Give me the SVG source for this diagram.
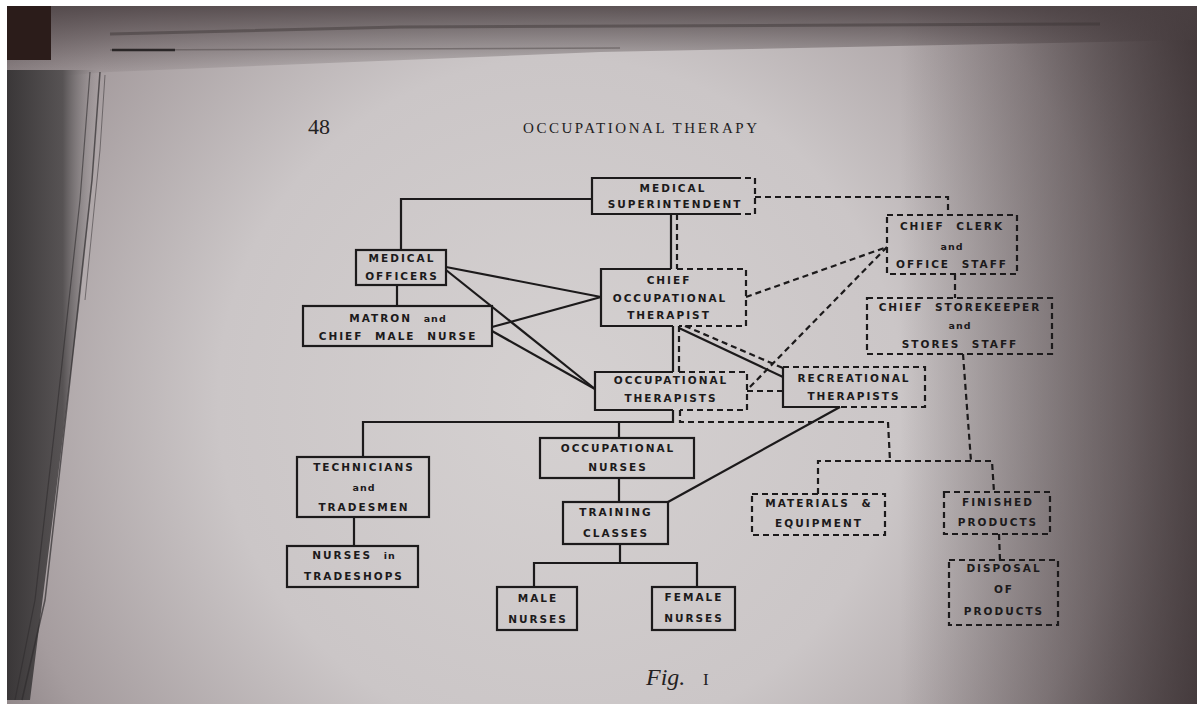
<svg xmlns="http://www.w3.org/2000/svg" width="1197" height="704" viewBox="0 0 1197 704">
<defs>
<radialGradient id="page" cx="560" cy="400" r="760" gradientUnits="userSpaceOnUse">
<stop offset="0" stop-color="#d5d1d1"/>
<stop offset="0.45" stop-color="#cbc6c7"/>
<stop offset="0.75" stop-color="#a59c9e"/>
<stop offset="1" stop-color="#6a6062"/>
</radialGradient>
<linearGradient id="rightShade" x1="0" y1="0" x2="1" y2="0">
<stop offset="0" stop-color="#2e2426" stop-opacity="0"/>
<stop offset="1" stop-color="#2e2426" stop-opacity="0.7"/>
</linearGradient>
<linearGradient id="topShade" x1="0" y1="0" x2="0" y2="1">
<stop offset="0" stop-color="#4a4042" stop-opacity="0.85"/>
<stop offset="1" stop-color="#4a4042" stop-opacity="0"/>
</linearGradient>
<linearGradient id="spine" x1="0" y1="0" x2="1" y2="0">
<stop offset="0" stop-color="#3a3738"/>
<stop offset="0.6" stop-color="#575354"/>
<stop offset="1" stop-color="#8a8587" stop-opacity="0"/>
</linearGradient>
<style>
.s{stroke:#1c1a1b;stroke-width:2.2;fill:none}
.d{stroke:#1c1a1b;stroke-width:2.2;fill:none;stroke-dasharray:6 4}
.t{font-family:"DejaVu Sans",sans-serif;font-weight:bold;font-size:10.5px;letter-spacing:2px;word-spacing:6px;fill:#1c1a1b;text-anchor:middle}
.sm{font-weight:bold;font-size:9.5px;letter-spacing:1px}
.hd{font-family:"Liberation Serif",serif;fill:#232122}
</style>
</defs>

<!-- background photo of page -->
<rect x="0" y="0" width="1197" height="704" fill="#ffffff"/>
<rect x="7" y="6" width="1190" height="698" fill="url(#page)"/>
<rect x="900" y="6" width="297" height="698" fill="url(#rightShade)"/>
<polygon points="7,6 1197,6 1197,40 600,52 110,72 7,80" fill="url(#topShade)"/>
<rect x="7" y="6" width="44" height="54" fill="#2b1c1a"/>
<path d="M110,34 L400,27 L1100,24" stroke="#3a3334" stroke-width="3" fill="none" opacity="0.45"/>
<path d="M110,50 L620,48" stroke="#4a4243" stroke-width="1.5" fill="none" opacity="0.45"/>
<path d="M112,50 L175,50" stroke="#2a2627" stroke-width="2.5" fill="none"/>
<polygon points="7,70 100,70 98,130 80,300 55,500 30,700 7,700" fill="url(#spine)"/>
<path d="M100,72 L92,180 L70,380 L45,600 L22,700" stroke="#2f2c2d" stroke-width="1.5" fill="none" opacity="0.7"/>
<path d="M90,72 L80,200 L58,400 L35,600 L15,700" stroke="#2f2c2d" stroke-width="1.2" fill="none" opacity="0.6"/>
<path d="M105,75 L100,150 L85,300" stroke="#2f2c2d" stroke-width="1" fill="none" opacity="0.5"/>

<!-- header -->
<text class="hd" x="308" y="134" font-size="22">48</text>
<text class="hd" x="523" y="133" font-size="15" textLength="234" lengthAdjust="spacing">OCCUPATIONAL THERAPY</text>
<text class="hd" x="646" y="685" font-size="24" font-style="italic">Fig.</text>
<text class="hd" x="703" y="685" font-size="17">I</text>

<!-- connectors -->
<g id="connectors">
<polyline class="s" points="592,199 401,199 401,250"/>
<line class="s" x1="397" y1="285" x2="397" y2="306"/>
<line class="s" x1="671" y1="214" x2="671" y2="269"/>
<line class="s" x1="673" y1="326" x2="673" y2="372"/>
<polyline class="s" points="673,410 673,422 363,422 363,457"/>
<line class="s" x1="619" y1="422" x2="619" y2="438"/>
<line class="s" x1="619" y1="478" x2="619" y2="502"/>
<line class="s" x1="354" y1="517" x2="354" y2="546"/>
<line class="s" x1="620" y1="544" x2="620" y2="563"/>
<polyline class="s" points="534,587 534,563 697,563 697,587"/>
<line class="s" x1="668" y1="502" x2="840" y2="407"/>
<line class="s" x1="446" y1="267" x2="601" y2="297"/>
<line class="s" x1="492" y1="327" x2="601" y2="297"/>
<line class="s" x1="446" y1="270" x2="595" y2="389"/>
<line class="s" x1="492" y1="331" x2="595" y2="389"/>
<line class="s" x1="679" y1="328" x2="783" y2="377"/>

<polyline class="d" points="755,197 948,197 948,215"/>
<line class="d" x1="677" y1="214" x2="677" y2="269"/>
<line class="d" x1="679" y1="326" x2="679" y2="372"/>
<polyline class="d" points="680,410 680,422 888,422 890,461"/>
<line class="d" x1="955" y1="274" x2="955" y2="298"/>
<line class="d" x1="963" y1="354" x2="971" y2="461"/>
<polyline class="d" points="818,494 818,461 992,461 994,492"/>
<line class="d" x1="999" y1="534" x2="1000" y2="560"/>
<line class="d" x1="746" y1="297" x2="887" y2="247"/>
<line class="d" x1="887" y1="247" x2="747" y2="390"/>
<line class="d" x1="783" y1="391" x2="747" y2="391"/>
<line class="d" x1="685" y1="326" x2="783" y2="368"/>
</g>

<!-- nodes -->
<g id="medical-superintendent">
<polyline class="s" points="735,214 592,214 592,178 735,178"/>
<polyline class="d" points="735,178 755,178 755,214 735,214"/>
<text class="t" x="673" y="192">MEDICAL</text>
<text class="t" x="675" y="208">SUPERINTENDENT</text>
</g>

<g id="medical-officers">
<rect class="s" x="356" y="250" width="90" height="35"/>
<text class="t" x="402" y="262">MEDICAL</text>
<text class="t" x="402" y="280">OFFICERS</text>
</g>

<g id="matron">
<rect class="s" x="303" y="306" width="189" height="40"/>
<text class="t" x="398" y="322">MATRON <tspan class="sm">and</tspan></text>
<text class="t" x="398" y="340">CHIEF MALE NURSE</text>
</g>

<g id="chief-ot">
<polyline class="s" points="671,269 601,269 601,326 673,326"/>
<polyline class="d" points="677,269 746,269 746,326 679,326"/>
<text class="t" x="669" y="284">CHIEF</text>
<text class="t" x="670" y="302">OCCUPATIONAL</text>
<text class="t" x="669" y="319">THERAPIST</text>
</g>

<g id="chief-clerk">
<rect class="d" x="887" y="215" width="130" height="59"/>
<text class="t" x="952" y="230">CHIEF CLERK</text>
<text class="t sm" x="952" y="250">and</text>
<text class="t" x="952" y="268">OFFICE STAFF</text>
</g>

<g id="chief-storekeeper">
<rect class="d" x="867" y="298" width="185" height="56"/>
<text class="t" x="960" y="311">CHIEF STOREKEEPER</text>
<text class="t sm" x="960" y="329">and</text>
<text class="t" x="960" y="348">STORES STAFF</text>
</g>

<g id="occupational-therapists">
<polyline class="s" points="673,372 595,372 595,410 673,410"/>
<polyline class="d" points="679,372 747,372 747,410 680,410"/>
<text class="t" x="671" y="384">OCCUPATIONAL</text>
<text class="t" x="671" y="402">THERAPISTS</text>
</g>

<g id="recreational-therapists">
<polyline class="s" points="783,367 783,407 840,407"/>
<polyline class="d" points="783,367 925,367 925,407 840,407"/>
<text class="t" x="854" y="382">RECREATIONAL</text>
<text class="t" x="854" y="400">THERAPISTS</text>
</g>

<g id="technicians">
<rect class="s" x="297" y="457" width="132" height="60"/>
<text class="t" x="364" y="471">TECHNICIANS</text>
<text class="t sm" x="364" y="491">and</text>
<text class="t" x="364" y="511">TRADESMEN</text>
</g>

<g id="occupational-nurses">
<rect class="s" x="540" y="438" width="154" height="40"/>
<text class="t" x="618" y="452">OCCUPATIONAL</text>
<text class="t" x="618" y="471">NURSES</text>
</g>

<g id="training-classes">
<rect class="s" x="563" y="502" width="105" height="42"/>
<text class="t" x="616" y="516">TRAINING</text>
<text class="t" x="616" y="537">CLASSES</text>
</g>

<g id="nurses-in-tradeshops">
<rect class="s" x="287" y="546" width="131" height="41"/>
<text class="t" x="354" y="559">NURSES <tspan class="sm">in</tspan></text>
<text class="t" x="354" y="580">TRADESHOPS</text>
</g>

<g id="male-nurses">
<rect class="s" x="497" y="587" width="80" height="43"/>
<text class="t" x="538" y="602">MALE</text>
<text class="t" x="538" y="623">NURSES</text>
</g>

<g id="female-nurses">
<rect class="s" x="652" y="587" width="83" height="43"/>
<text class="t" x="694" y="601">FEMALE</text>
<text class="t" x="694" y="622">NURSES</text>
</g>

<g id="materials-equipment">
<rect class="d" x="752" y="494" width="133" height="41"/>
<text class="t" x="819" y="507">MATERIALS &amp;</text>
<text class="t" x="819" y="527">EQUIPMENT</text>
</g>

<g id="finished-products">
<rect class="d" x="944" y="492" width="106" height="42"/>
<text class="t" x="998" y="506">FINISHED</text>
<text class="t" x="998" y="526">PRODUCTS</text>
</g>

<g id="disposal-of-products">
<rect class="d" x="949" y="560" width="109" height="65"/>
<text class="t" x="1004" y="572">DISPOSAL</text>
<text class="t" x="1004" y="593">OF</text>
<text class="t" x="1004" y="615">PRODUCTS</text>
</g>
</svg>
